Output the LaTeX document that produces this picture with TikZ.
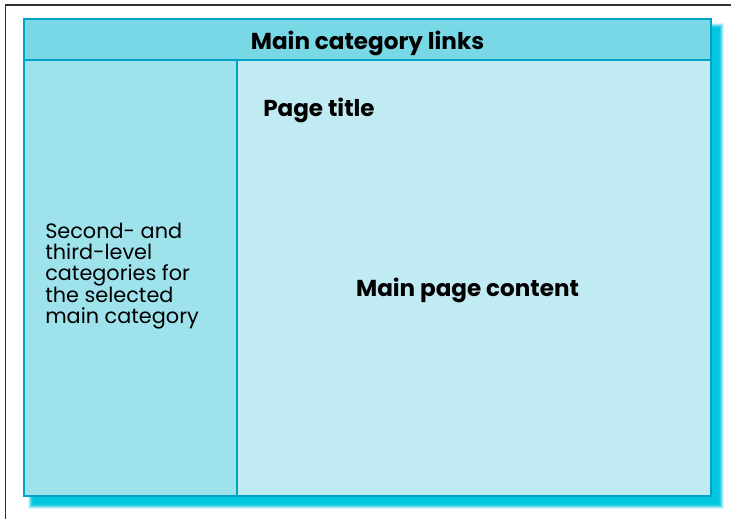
\documentclass[tikz,border=0pt]{standalone}
\usepackage{fontspec}
\setmainfont{Poppins}
\definecolor{hdr}{HTML}{78D8E6}
\definecolor{leftp}{HTML}{9EE2EC}
\definecolor{rightp}{HTML}{C1EBF2}
\definecolor{edge}{HTML}{00A2C8}
\definecolor{shad}{HTML}{00C6E0}
\definecolor{frame}{HTML}{333333}
\begin{document}
\begin{tikzpicture}[x=0.75pt,y=-0.75pt,
  panel/.style={draw=edge,line width=1.5pt},
  boldlbl/.style={font=\fontsize{17.3}{20}\selectfont\bfseries,text=black,inner sep=0pt},
  plainlbl/.style={font=\fontsize{15.6}{15.75}\selectfont,text=black,inner sep=0pt,align=left}]
\useasboundingbox (0,0) rectangle (731,519);
\fill[white] (0,0) rectangle (731,519);
% outer frame (cropped)
\draw[frame,line width=1.1pt] (5.5,519) -- (5.5,5) -- (731,5);
% shadow
\foreach \d/\o in {5/0.15,4/0.25,3/0.35,2/0.5,1/0.7,0/1}{
  \fill[shad,opacity=\o] (33-\d,28-\d) rectangle (719+\d,504+\d);
}
% panels
\fill[rightp] (24,19) rectangle (711,496);
\fill[leftp] (24,60) rectangle (237,496);
\fill[hdr] (24,19) rectangle (711,60);
\draw[panel] (24,60) -- (711,60);
\draw[panel] (237,60) -- (237,496);
\draw[panel] (24,19) rectangle (711,496);
\node[boldlbl] (hdrtext) at (367.5,43) {Main category links};
\node[boldlbl,anchor=west] (title) at (263,110) {Page title};
\node[boldlbl] (content) at (467.5,290) {Main page content};
\node[plainlbl,anchor=west] (side) at (45,276) {Second- and\\third-level\\categories for\\the selected\\main category};
\end{tikzpicture}
\end{document}
